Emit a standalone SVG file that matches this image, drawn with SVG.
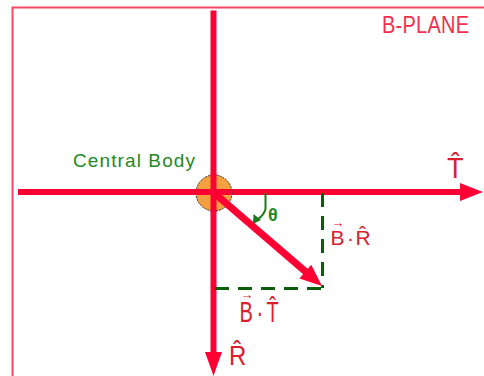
<svg xmlns="http://www.w3.org/2000/svg" width="484" height="376" viewBox="0 0 484 376">
<defs>
<style>
.axis{stroke:#FF0033;stroke-width:6;fill:none}
.head{fill:#FF0033}
.dash{stroke:#0B5F0B;stroke-width:3;fill:none;stroke-dasharray:14 9}
.lbl{font-family:"Liberation Sans",Arial,sans-serif;fill:#D8202E}
.arr{font-family:"Liberation Sans","DejaVu Sans",sans-serif;fill:#D8202E;font-size:14px}
.grn{font-family:"Liberation Sans",Arial,sans-serif;fill:#238A23}
</style>
</defs>
<rect x="12.5" y="7.5" width="490" height="390" fill="#fff" stroke="#FF4466" stroke-width="2"/>
<g id="title">
<text class="lbl" font-size="20" transform="translate(382,33) scale(1,1.19)" textLength="87" style="fill:#F0304E">B-PLANE</text>
</g>
<g id="connectors">
<line class="axis" x1="18" y1="192" x2="461" y2="192"/>
<polygon class="head" points="460,183 483,192 460,201"/>
<line class="axis" x1="213.5" y1="10.5" x2="213.5" y2="353"/>
<polygon class="head" points="205,352 222,352 213.5,376"/>
<line class="dash" x1="322.5" y1="193" x2="322.5" y2="288"/>
<line class="dash" x1="215" y1="288.5" x2="323" y2="288.5"/>
<path d="M265.5,193 L265.5,209 Q264,215 258,219" stroke="#1A7A1A" stroke-width="2" fill="none"/>
<polygon points="253,224 253.5,214 261,220" fill="#1A7A1A"/>
</g>
<g id="central-body">
<circle cx="214" cy="193" r="18" fill="#F4A040" stroke="#333" stroke-width="1" stroke-dasharray="2 1"/>
<text class="grn" x="73" y="167" font-size="19" textLength="122">Central Body</text>
</g>
<g id="axis-redraw">
<line class="axis" x1="196" y1="192" x2="232" y2="192"/>
<line class="axis" x1="213.5" y1="174" x2="213.5" y2="212"/>
</g>
<g id="b-vector">
<line x1="213" y1="192" x2="306" y2="272" stroke="#FF0033" stroke-width="7"/>
<polygon class="head" points="322,286 299.4,278.4 311.2,264.8"/>
<text class="grn" x="268" y="221" font-size="18" font-weight="bold">θ</text>
</g>
<g id="label-t">
<text class="lbl" font-size="27" transform="translate(447,178) scale(1,1.09)">T̂</text>
</g>
<g id="label-r">
<text class="lbl" font-size="24" transform="translate(229,365) scale(1,1.18)">R̂</text>
</g>
<g id="label-br">
<text class="arr" x="331.5" y="226.5" textLength="13" lengthAdjust="spacingAndGlyphs">→</text>
<text class="lbl" font-size="21" transform="translate(0,244.5)"><tspan x="330.5">B</tspan><tspan x="347">·</tspan><tspan x="355.5">R̂</tspan></text>
</g>
<g id="label-bt">
<text class="arr" x="240.5" y="299" textLength="13" lengthAdjust="spacingAndGlyphs">→</text>
<text class="lbl" font-size="20" transform="translate(0,322) scale(1,1.45)"><tspan x="239.5">B</tspan><tspan x="256.5">·</tspan><tspan x="266.5">T̂</tspan></text>
</g>
</svg>
